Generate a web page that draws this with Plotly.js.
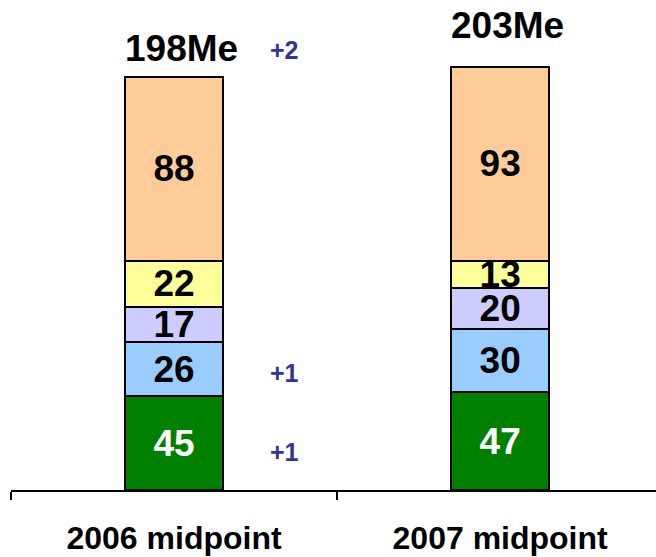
<!DOCTYPE html>
<html>
<head>
<meta charset="utf-8">
<script src="https://cdn.plot.ly/plotly-3.0.1.min.js"></script>
<style>html,body{margin:0;padding:0;background:#fff;}#chart{width:656px;height:557px;}</style>
</head>
<body>
<div id="chart"></div>
<script>
const categories = ['2006 midpoint', '2007 midpoint'];
const seriesGreen = [45, 47];
const seriesBlue = [26, 30];
const seriesLavender = [17, 20];
const seriesYellow = [22, 13];
const seriesOrange = [88, 93];
const totalLabels = ['198Me', '203Me'];
const deltaLabels = ['+2', '+1', '+1'];
const deltaY = [211, 56, 18];

const FONT = 'Liberation Sans, Arial, sans-serif';
const series = [
  {y: seriesGreen, color: '#008000', txt: '#ffffff'},
  {y: seriesBlue, color: '#99CCFF', txt: '#000000'},
  {y: seriesLavender, color: '#CCCCFF', txt: '#000000'},
  {y: seriesYellow, color: '#FFFF99', txt: '#000000'},
  {y: seriesOrange, color: '#FFCC99', txt: '#000000'}
];
const traces = series.map(s => ({
  type: 'bar', x: categories, y: s.y, width: 0.3,
  marker: {color: s.color, line: {color: '#000000', width: 2}},
  text: s.y.map(String), textposition: 'inside', insidetextanchor: 'middle',
  constraintext: 'none', cliponaxis: false,
  textfont: {family: FONT, size: 37, color: s.txt, weight: 'bold'},
  hoverinfo: 'none', showlegend: false
}));

const totalShift = [6, 19];
const totals = categories.map((c, i) => series.reduce((a, s) => a + s.y[i], 0));
const annotations = categories.map((c, i) => ({
  x: c, y: totals[i], text: '<b>' + totalLabels[i] + '</b>', showarrow: false,
  yanchor: 'bottom', yshift: totalShift[i], xshift: 7,
  font: {family: FONT, size: 37, color: '#000000'}
}));
deltaLabels.forEach((t, i) => annotations.push({
  x: 0.34, y: deltaY[i], xref: 'x', text: '<b>' + t + '</b>', showarrow: false,
  font: {family: FONT, size: 25, color: '#333399'}
}));

const layout = {
  width: 656, height: 557,
  margin: {l: 11, r: 0, t: 0, b: 67},
  paper_bgcolor: '#ffffff', plot_bgcolor: '#ffffff',
  barmode: 'stack',
  xaxis: {
    type: 'category', range: [-0.5, 1.478], tickson: 'boundaries',
    ticks: 'outside', ticklen: 8, tickwidth: 1.5, tickcolor: '#000000',
    showline: true, linecolor: '#000000', linewidth: 1.5,
    showgrid: false, zeroline: false, ticklabelstandoff: 19,
    tickfont: {family: FONT, size: 32, color: '#000000', weight: 'bold'}
  },
  yaxis: {range: [0, 235], visible: false, showgrid: false, zeroline: false},
  annotations: annotations,
  showlegend: false
};
Plotly.newPlot('chart', traces, layout, {displayModeBar: false, staticPlot: true});
</script>
</body>
</html>
